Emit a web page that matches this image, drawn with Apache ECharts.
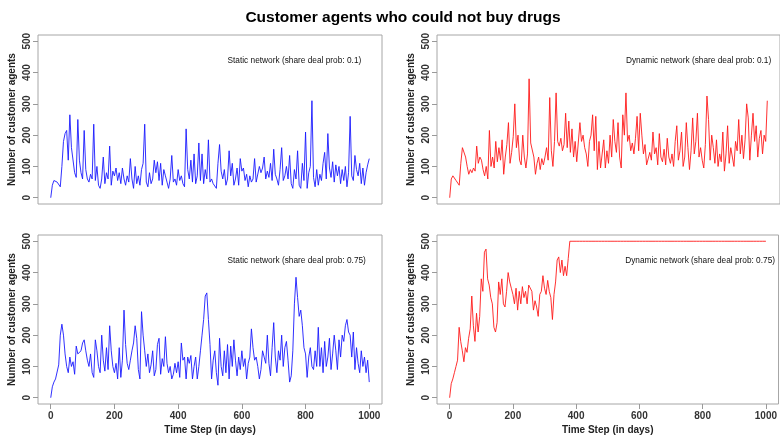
<!DOCTYPE html>
<html>
<head>
<meta charset="utf-8">
<script src="https://cdn.jsdelivr.net/npm/echarts@6/dist/echarts.min.js"></script>
<style>
html,body{margin:0;padding:0;background:#fff;}
#chart{width:780px;height:441px;}
</style>
</head>
<body>
<div id="chart"></div>
<script>
// Sampled every 5 days, day 0 .. 1000
const days = Array.from({length: 201}, (_, i) => i * 5);

const chartTitle = 'Customer agents who could not buy drugs';
const panelLabels = [
  'Static network (share deal prob: 0.1)',
  'Dynamic network (share deal prob: 0.1)',
  'Static network (share deal prob: 0.75)',
  'Dynamic network (share deal prob: 0.75)'
];
const yTicks = [0, 100, 200, 300, 400, 500];
const xTicks = [0, 200, 400, 600, 800, 1000];
const yTitle = 'Number of customer agents';
const xTitle = 'Time Step (in days)';

const staticLow = [
0,40,55,60,50,45,35,100,180,205,215,120,265,160,155,80,65,250,120,80,
60,215,90,60,50,75,60,235,55,100,40,30,60,130,45,80,60,165,40,85,
70,95,55,80,45,95,60,40,70,50,125,60,30,100,45,70,40,90,110,235,
50,35,80,45,60,120,80,115,55,110,40,90,70,50,30,60,135,50,60,40,
90,55,70,45,35,220,90,60,120,50,140,45,70,175,55,140,45,90,60,185,
50,60,45,40,30,110,170,85,60,90,40,60,150,70,110,40,60,95,40,125,
85,95,55,75,35,70,50,60,125,50,45,100,80,95,130,60,85,65,110,55,
155,75,60,40,90,160,55,70,100,60,135,45,30,90,60,150,40,30,110,55,
210,30,80,100,310,65,35,90,40,75,55,110,145,60,205,95,65,115,50,105,
70,100,45,90,55,100,35,80,260,70,55,135,90,70,110,45,95,40,80,105,
125
];

const dynamicLow = [
0,60,70,65,55,60,40,110,160,165,130,100,75,90,80,95,85,165,110,130,
120,90,70,100,60,215,100,130,95,180,115,160,120,185,75,130,170,240,110,145,
195,300,160,200,120,105,200,130,95,140,380,175,170,130,75,110,130,90,125,105,
130,160,120,320,150,100,180,335,180,165,190,150,170,270,160,245,145,220,130,180,
115,120,240,180,200,160,140,100,180,200,265,150,260,90,180,95,100,185,95,150,
110,200,130,250,180,145,240,130,95,265,200,335,180,200,150,175,140,190,260,150,
270,200,140,170,105,100,145,120,210,140,160,105,205,130,115,155,105,190,130,110,
140,100,180,230,120,150,210,100,130,240,160,90,150,255,140,180,270,130,160,120,
95,170,325,250,120,200,160,110,185,100,140,115,210,85,140,230,110,160,130,100,
180,150,250,140,200,125,185,300,255,120,200,270,180,230,130,190,215,140,200,180,
310
];

const staticHigh = [
0,35,50,60,65,105,200,235,200,140,100,80,130,100,115,75,165,140,135,150,
175,185,150,120,100,140,80,65,185,150,100,80,200,120,85,160,90,230,150,100,
80,110,60,160,65,120,280,170,110,90,120,150,175,230,190,90,60,275,200,150,
100,140,80,105,150,70,90,170,190,75,125,100,195,110,80,100,60,75,110,80,
115,65,175,120,130,60,130,110,135,60,100,130,60,100,150,200,250,325,335,250,
170,60,120,150,80,40,190,100,70,150,80,170,60,165,100,185,120,70,130,90,
150,100,125,60,110,130,220,160,120,130,100,60,90,150,130,110,200,110,70,160,
240,130,80,150,120,200,100,160,180,120,50,70,150,300,385,320,260,280,230,160,
140,65,130,160,100,90,150,100,225,100,160,80,180,100,130,190,90,140,200,150,
90,185,130,200,180,230,250,210,200,130,210,90,160,110,80,150,100,130,80,120,
50
];

const dynamicHigh = [
0,45,60,80,100,120,225,180,150,115,160,145,190,220,325,230,180,270,210,260,
380,340,465,475,380,360,320,300,225,210,240,370,330,380,300,290,340,400,370,350,
330,300,350,280,340,300,355,320,340,300,360,355,340,280,310,290,260,330,340,390,
350,330,375,340,320,250,330,370,440,450,400,440,390,420,390,445,500,500,500,500,
500,500,500,500,500,500,500,500,500,500,500,500,500,500,500,500,500,500,500,500,
500,500,500,500,500,500,500,500,500,500,500,500,500,500,500,500,500,500,500,500,
500,500,500,500,500,500,500,500,500,500,500,500,500,500,500,500,500,500,500,500,
500,500,500,500,500,500,500,500,500,500,500,500,500,500,500,500,500,500,500,500,
500,500,500,500,500,500,500,500,500,500,500,500,500,500,500,500,500,500,500,500,
500,500,500,500,500,500,500,500,500,500,500,500,500,500,500,500,500,500,500,500,
500
];

const seriesValues = [staticLow, dynamicLow, staticHigh, dynamicHigh];
const seriesColors = ['#1a1aff', '#ff1a1a', '#1a1aff', '#ff1a1a'];
const labelAnchor = [555, 438];

const FONT = '"Liberation Sans", Arial, sans-serif';
const grids = [
  {left: 38, top: 35, width: 344, height: 169},
  {left: 437, top: 35, width: 344, height: 169},
  {left: 38, top: 235, width: 344, height: 169},
  {left: 437, top: 235, width: 344, height: 169}
];

const option = {
  animation: false,
  backgroundColor: '#fff',
  title: {
    text: chartTitle, left: 398, top: 5, textAlign: 'center',
    textStyle: {fontFamily: FONT, fontSize: 15.5, fontWeight: 'bold', color: '#000'}
  },
  grid: grids.map(g => Object.assign({show: true, borderColor: '#a6a6a6', borderWidth: 1, backgroundColor: 'transparent'}, g)),
  xAxis: grids.map((g, i) => ({
    type: 'value', gridIndex: i, min: -40, max: 1040,
    splitLine: {show: false},
    axisLine: {show: false, onZero: false},
    axisTick: {show: i >= 2, length: 5, customValues: xTicks, lineStyle: {color: '#999'}},
    axisLabel: {show: i >= 2, customValues: xTicks, margin: 7, formatter: v => String(v),
      fontFamily: FONT, fontSize: 10, fontWeight: 'bold', color: '#333'},
    name: i >= 2 ? xTitle : '', nameLocation: 'middle', nameGap: 21,
    nameTextStyle: {fontFamily: FONT, fontSize: 10, fontWeight: 'bold', color: '#222'}
  })),
  yAxis: grids.map((g, i) => ({
    type: 'value', gridIndex: i, min: -20, max: 520,
    splitLine: {show: false},
    axisLine: {show: false, onZero: false},
    axisTick: {show: true, length: 5, customValues: yTicks, lineStyle: {color: '#999'}},
    axisLabel: {rotate: 90, customValues: yTicks, margin: 6, formatter: v => String(v),
      fontFamily: FONT, fontSize: 10, fontWeight: 'bold', color: '#333'},
    name: yTitle, nameLocation: 'middle', nameGap: 21, nameRotate: 90,
    nameTextStyle: {fontFamily: FONT, fontSize: 10, fontWeight: 'bold', color: '#222'}
  })),
  series: seriesValues.map((vals, i) => ({
    type: 'line', xAxisIndex: i, yAxisIndex: i,
    data: days.map((d, k) => [d, vals[k]]),
    showSymbol: false, symbol: 'none',
    lineStyle: {color: seriesColors[i], width: 0.9},
    silent: true,
    markPoint: {
      symbol: 'circle', symbolSize: 0,
      data: [{coord: labelAnchor}],
      label: {show: true, position: 'right', distance: 0, formatter: panelLabels[i],
        fontFamily: FONT, fontSize: 8.3, color: '#111'}
    }
  }))
};

const chart = echarts.init(document.getElementById('chart'), null, {renderer: 'canvas'});
chart.setOption(option);
</script>
</body>
</html>
